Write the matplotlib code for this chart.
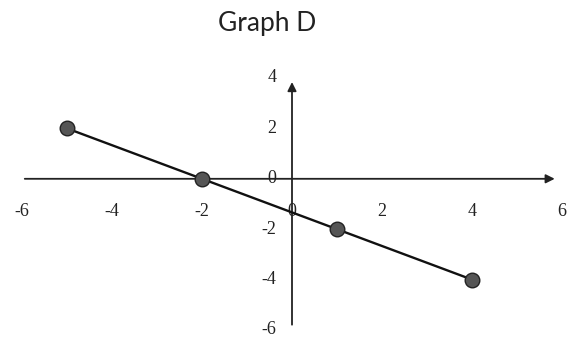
import matplotlib
matplotlib.use("Agg")
import matplotlib.pyplot as plt

# points on the line
xs = [-5, -2, 1, 4]
ys = [2, 0, -2, -4]

x_ticks = [-6, -4, -2, 0, 2, 4, 6]
y_ticks = [-6, -4, -2, 0, 2, 4]

fig = plt.figure(figsize=(5.72, 3.39), dpi=100)
ax = fig.add_axes([22 / 572, 1 - 330 / 339, 540 / 572, 252 / 339])
ax.set_xlim(-6, 6)
ax.set_ylim(-6, 4)
ax.axis("off")

# axes with arrow heads
ax.annotate("", xy=(5.9, 0), xytext=(-6, 0),
            arrowprops=dict(arrowstyle="-|>", color="#222222", lw=1.3,
                            mutation_scale=13))
ax.annotate("", xy=(0, 3.95), xytext=(0, -5.9),
            arrowprops=dict(arrowstyle="-|>", color="#222222", lw=1.3,
                            mutation_scale=13))

# tick labels
for t in x_ticks:
    ax.text(t, -1.3, str(t), ha="center", va="center",
            fontsize=13, family="Liberation Serif", color="#222222")
for t in y_ticks:
    ax.text(-0.35, t, str(t), ha="right", va="center",
            fontsize=13, family="Liberation Serif", color="#222222")

# line with markers
ax.plot(xs, ys, color="#111111", lw=1.7, marker="o", markersize=10.5,
        markerfacecolor="#555555", markeredgecolor="#222222",
        markeredgewidth=1, zorder=3)

fig.text(267 / 572, 1 - 24 / 339, "Graph D", ha="center", va="center",
         fontsize=19, family="Lato", color="#222222")

fig.savefig("out.png", dpi=100)
